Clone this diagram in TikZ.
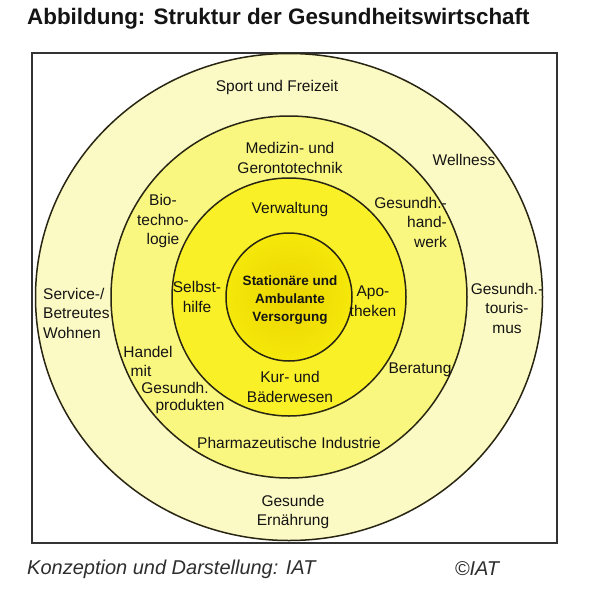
\documentclass[tikz,border=0pt]{standalone}
\usepackage{fontspec}
\setmainfont{Liberation Sans}
\definecolor{ringA}{RGB}{252,250,196}
\definecolor{ringB}{RGB}{250,247,128}
\definecolor{ringC}{RGB}{250,240,40}
\definecolor{coreIn}{RGB}{234,212,0}
\definecolor{coreOut}{RGB}{246,232,10}
\definecolor{linecol}{RGB}{40,38,18}
\definecolor{txt}{RGB}{20,20,20}
\begin{document}
\begin{tikzpicture}[x=1pt,y=-1pt,
  ring/.style={draw=linecol,line width=1.5pt},
  lbl/.style={font=\fontsize{15.5}{19.5}\selectfont,align=center,inner sep=0pt,text=txt},
  corelbl/.style={font=\fontsize{13.5}{18}\selectfont\bfseries,align=center,inner sep=0pt,text=txt}]
\useasboundingbox (0,0) rectangle (598,600);
\fill[white] (0,0) rectangle (598,600);
\coordinate (c) at (289,297);
% frame
\draw[draw=black!80,line width=1.6pt] (32,53) rectangle (557,543);
% rings
\draw[ring,fill=ringA] (c) ellipse [x radius=253.5,y radius=243.5];
\draw[ring,fill=ringB] (c) ellipse [x radius=178,y radius=181];
\draw[ring,fill=ringC] (c) ellipse [x radius=117,y radius=119];
\shade[inner color=coreIn,outer color=coreOut] (c) ellipse [x radius=63,y radius=64];
\draw[ring] (c) ellipse [x radius=63,y radius=64];
% title and footer
\node[anchor=west,inner sep=0pt,font=\fontsize{22.4}{26}\selectfont\bfseries,text=txt] (title) at (27,19) {Abbildung: Struktur der Gesundheitswirtschaft};
\node[anchor=west,inner sep=0pt,font=\fontsize{20}{24}\selectfont\itshape,text=black!82] (foot) at (27,569) {Konzeption und Darstellung: IAT};
\node[inner sep=0pt,font=\fontsize{20}{24}\selectfont\itshape,text=black!82] (copy) at (477,569) {©IAT};
% labels
\node[lbl] (sport) at (277,87) {Sport und Freizeit};
\node[lbl] (med) at (290,158) {Medizin- und\\Gerontotechnik};
\node[lbl] (well) at (464,160) {Wellness};
\node[lbl] (bio) at (163,221) {Bio-\\techno-\\logie};
\node[lbl] (verw) at (290,209) {Verwaltung};
\node[lbl,align=right,anchor=east] (hw) at (447,222) {Gesundh.-\\hand-\\werk};
\node[lbl,align=left,anchor=west] (serv) at (43,313) {Service-/\\Betreutes\\Wohnen};
\node[lbl] (selbst) at (197,297) {Selbst-\\hilfe};
\node[corelbl] (core) at (290,300) {Stationäre und\\Ambulante\\Versorgung};
\node[lbl] (apo) at (373,301) {Apo-\\theken};
\node[lbl] (tour) at (507,308) {Gesundh.-\\touris-\\mus};
\node[lbl] (han1) at (148,352) {Handel};
\node[lbl] (han2) at (141,371) {mit};
\node[lbl] (han3) at (175,388) {Gesundh.};
\node[lbl] (han4) at (190,406) {produkten};
\node[lbl] (kur) at (290,387) {Kur- und\\Bäderwesen};
\node[lbl] (ber) at (420,370) {Beratung};
\node[lbl] (pharma) at (289,443) {Pharmazeutische Industrie};
\node[lbl] (gesunde) at (293,512) {Gesunde\\Ernährung};
\end{tikzpicture}
\end{document}
